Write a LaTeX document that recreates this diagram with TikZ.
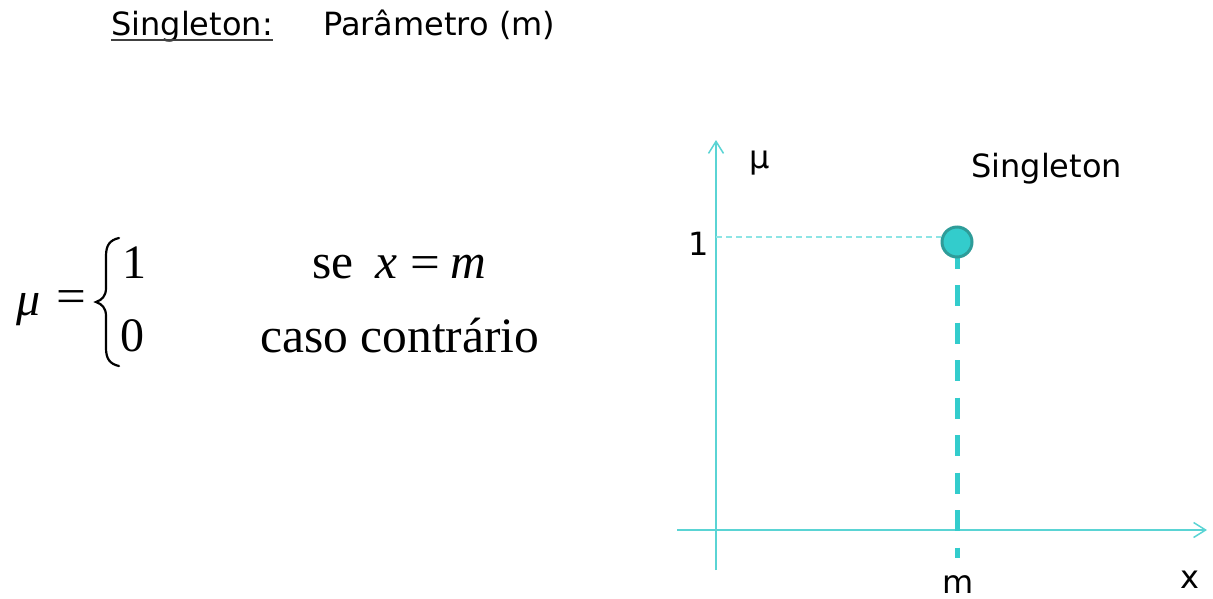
\documentclass[tikz,border=0pt]{standalone}
\usepackage{fontspec}
\usetikzlibrary{arrows.meta}
\newfontfamily\sans{DejaVu Sans}
\newfontfamily\tms{Liberation Serif}
\definecolor{axiscol}{HTML}{5AD4D4}
\definecolor{dotcol}{HTML}{8DE5E5}
\definecolor{teal1}{HTML}{33CCCC}
\definecolor{teal2}{HTML}{2E9C99}
\begin{document}
\begin{tikzpicture}[x=1pt,y=-1pt,
  lbl/.style={inner sep=0pt,font=\sans\fontsize{32}{32}\selectfont},
  frm/.style={inner sep=0pt,font=\tms\fontsize{48}{48}\selectfont},
  frmw/.style={inner sep=0pt,font=\tms\fontsize{49.5}{49.5}\selectfont},
  axisline/.style={draw=axiscol,line width=1.5pt,-{Straight Barb[length=12pt,width=15pt,line width=1.5pt]}},
  guide/.style={draw=dotcol,line width=1.5pt,dash pattern=on 6pt off 4pt},
  stem/.style={draw=teal1,line width=5pt,dash pattern=on 21pt off 16.5pt},
  dotnode/.style={circle,fill=teal1,draw=teal2,line width=3pt,minimum size=30pt,inner sep=0pt},
  bracestyle/.style={draw=black,line width=2.2pt,line cap=round}]
\useasboundingbox (0,0) rectangle (1213,598);
% title
\node[lbl,anchor=base west] (t1) at (111,35) {Singleton:};
\draw[draw=black!75,line width=1.6pt] ([yshift=-5pt]t1.base west) -- ([yshift=-5pt]t1.base east);
\node[lbl,anchor=base west] (t2) at (323,35) {Parâmetro (m)};
% formula
\node[frm,anchor=base] (mu) at (29,315) {\itshape μ};
\node[frm,anchor=center,xscale=1.1] (eq) at (71,302) {=};
\draw[bracestyle] (119,238) .. controls (110,240) and (106,245) .. (106,256) -- (106,288)
  .. controls (106,296) and (102,300) .. (96,302)
  .. controls (102,304) and (106,308) .. (106,316) -- (106,348)
  .. controls (106,359) and (110,364) .. (119,366);
\node[frm,anchor=base west] (one) at (122,278) {1};
\node[frm,anchor=base west] (zero) at (120,351) {0};
\node[frmw,anchor=base west] (se) at (312,278) {se};
\node[frmw,anchor=base west] (xv) at (375,278) {\itshape x};
\node[frm,anchor=base west,xscale=1.1] (eq2) at (410,278) {=};
\node[frmw,anchor=base west] (mv) at (450,278) {\itshape m};
\node[frmw,anchor=base west] (caso) at (260,352) {caso contrário};
% axes
\coordinate (ybot) at (716,570);
\coordinate (ytop) at (716,140);
\coordinate (xl) at (677,530);
\coordinate (xr) at (1207,530);
\draw[axisline] (ybot) -- (ytop);
\draw[axisline] (xl) -- (xr);
% singleton
\coordinate (stemtop) at (957,247.5);
\coordinate (stembot) at (957,558);
\coordinate (g1) at (716,237);
\draw[stem] (stemtop) -- (stembot);
\node[dotnode] (pt) at (957,242) {};
\draw[guide] (g1) -- (pt.west |- g1);
% labels
\node[lbl,anchor=base] (l1) at (699,255) {1};
\node[lbl,anchor=base] (lmu) at (760,168) {μ};
\node[lbl,anchor=base west] (lsing) at (971,177) {Singleton};
\node[lbl,anchor=base] (lm) at (958,593) {m};
\node[lbl,anchor=base] (lx) at (1190,588) {x};
\end{tikzpicture}
\end{document}
